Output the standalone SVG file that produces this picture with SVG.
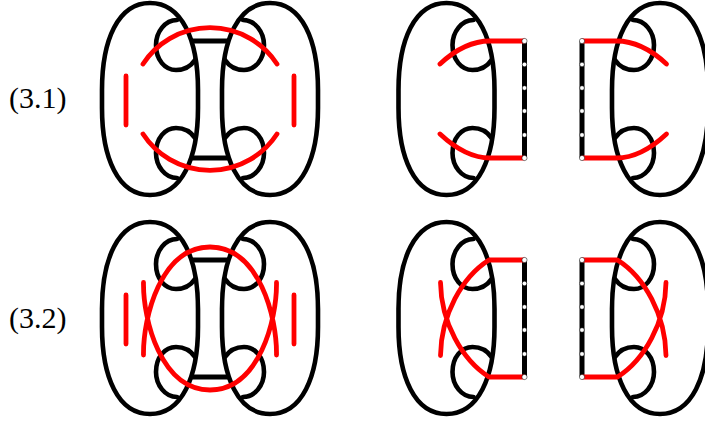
<svg xmlns="http://www.w3.org/2000/svg" xmlns:xlink="http://www.w3.org/1999/xlink" width="705" height="421" viewBox="0 0 705 421">
<style>
.k{fill:none;stroke:#000;stroke-width:4.6;stroke-linecap:round}
.b{fill:none;stroke:#000;stroke-width:5}
.r{fill:none;stroke:#f00;stroke-width:4.8;stroke-linecap:round;stroke-linejoin:round}
.d{fill:#fff;stroke:#000;stroke-width:.5}
text{font-family:"Liberation Serif",serif;font-size:30px;fill:#000}
</style>
<defs>
<g id="half">
<path class="k" d="M102,90C102,40 118,3 150,3C182,3 198,40 198,90V108C198,158 182,195 150,195C118,195 102,158 102,108Z"/>
<path class="k" d="M177,20C165,20 156,32 156,45C156,60 165,70 176,70C184,70 191,66 195,60"/>
<path class="k" d="M177,178C165,178 156,166 156,153C156,138 165,128 176,128C184,128 191,132 195,138"/>
</g>
<g id="bar">
<path class="b" d="M524.5,41V158"/>
</g>
<g id="dots">
<circle class="d" cx="524.500" cy="41" r="2.600"/><circle class="d" cx="524.500" cy="64.500" r="2.300"/><circle class="d" cx="524.500" cy="88" r="2.300"/><circle class="d" cx="524.500" cy="111" r="2.300"/><circle class="d" cx="524.500" cy="135" r="2.300"/><circle class="d" cx="524.500" cy="158" r="2.600"/>
</g>
<g id="full">
<use xlink:href="#half" href="#half"/>
<use xlink:href="#half" href="#half" transform="translate(420,0) scale(-1,1)"/>
<path class="b" d="M191,41H229M191,158H229"/>
</g>
<g id="cut">
<use xlink:href="#half" href="#half" transform="translate(296.500,0)"/>
<use xlink:href="#bar" href="#bar"/>
</g>
<g id="cutr1">
<path class="r" d="M440,64C455,50 472,41 490,41H524M440,134C455,148 472,158 490,158H524"/>
</g>
<g id="cutr2">
<path class="r" d="M524,41H489C462,58 441,96 440.500,136.500M524,158H489C462,141 441,103 440.500,63.500"/>
</g>
</defs>
<g id="label-3-1"><text x="9" y="108">(3.1)</text></g>
<g id="label-3-2"><text x="9" y="328">(3.2)</text></g>
<g id="node-1a">
<use xlink:href="#full" href="#full"/>
</g>
<g id="node-1b">
<use xlink:href="#cut" href="#cut"/>
<use xlink:href="#cut" href="#cut" transform="translate(1106.500,0) scale(-1,1)"/>
</g>
<g id="node-2a" transform="translate(0,219)">
<use xlink:href="#full" href="#full"/>
</g>
<g id="node-2b" transform="translate(0,219)">
<use xlink:href="#cut" href="#cut"/>
<use xlink:href="#cut" href="#cut" transform="translate(1106.500,0) scale(-1,1)"/>
</g>
<g id="connectors">
<g>
<path class="r" d="M143,64A80,80 0 0 1 277,64M143,134A80,80 0 0 0 277,134M126,76V125M294,76V125"/>
<use xlink:href="#cutr1" href="#cutr1"/>
<use xlink:href="#cutr1" href="#cutr1" transform="translate(1106.500,0) scale(-1,1)"/>
</g>
<g transform="translate(0,219)">
<path class="r" d="M143.500,136C143,98 161,28 210,28C259,28 277,98 276.500,136M143.500,63.500C143,101 161,171 210,171C259,171 277,101 276.500,63.500"/>
<path class="r" d="M126,76V125M294,76V125"/>
<use xlink:href="#cutr2" href="#cutr2"/>
<use xlink:href="#cutr2" href="#cutr2" transform="translate(1106.500,0) scale(-1,1)"/>
</g>
</g>
<g id="ports">
<use xlink:href="#dots" href="#dots"/>
<use xlink:href="#dots" href="#dots" transform="translate(1106.500,0) scale(-1,1)"/>
<use xlink:href="#dots" href="#dots" transform="translate(0,219)"/>
<use xlink:href="#dots" href="#dots" transform="translate(1106.500,219) scale(-1,1)"/>
</g>
</svg>
